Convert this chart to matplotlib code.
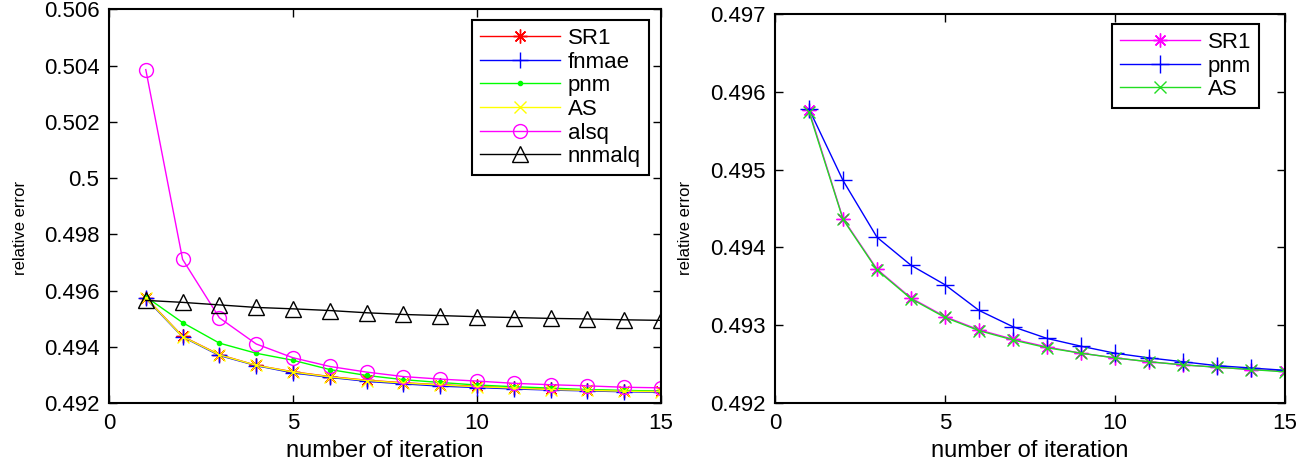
import numpy as np
import matplotlib
matplotlib.use("Agg")
import matplotlib.pyplot as plt
from matplotlib.ticker import FuncFormatter

plt.rcParams['font.family'] = ['Liberation Sans', 'DejaVu Sans']

# 迭代次数
iters = list(range(1, 16))

# 左图数据
sr1_left = [0.49575, 0.49437, 0.49372, 0.49334, 0.49311, 0.49294, 0.49281, 0.49272,
            0.49265, 0.49259, 0.49254, 0.49249, 0.49246, 0.49243, 0.49241]
fnmae_left = [0.49572, 0.49435, 0.49369, 0.49333, 0.49307, 0.49291, 0.49277, 0.49268,
              0.49260, 0.49255, 0.49250, 0.49246, 0.49243, 0.49240, 0.49238]
pnm_left = [0.49578, 0.49486, 0.49413, 0.49377, 0.49352, 0.49319, 0.49298, 0.49283,
            0.49273, 0.49264, 0.49258, 0.49253, 0.49248, 0.49245, 0.49242]
as_left = [0.49574, 0.49436, 0.49371, 0.49334, 0.49310, 0.49293, 0.49280, 0.49271,
           0.49264, 0.49258, 0.49253, 0.49248, 0.49245, 0.49242, 0.49240]
alsq_left = [0.50386, 0.49711, 0.49503, 0.49410, 0.49361, 0.49330, 0.49310, 0.49294,
             0.49285, 0.49278, 0.49270, 0.49265, 0.49261, 0.49256, 0.49254]
nnmalq_left = [0.49565, 0.49558, 0.49549, 0.49540, 0.49535, 0.49529, 0.49521, 0.49515,
               0.49511, 0.49507, 0.49504, 0.49501, 0.49499, 0.49496, 0.49494]

# 右图数据
sr1_right = [0.49576, 0.49437, 0.49372, 0.49335, 0.49311, 0.49294, 0.49282, 0.49272,
             0.49264, 0.49258, 0.49253, 0.49249, 0.49246, 0.49243, 0.49241]
pnm_right = [0.49578, 0.49486, 0.49413, 0.49377, 0.49352, 0.49319, 0.49298, 0.49283,
             0.49273, 0.49264, 0.49258, 0.49253, 0.49248, 0.49245, 0.49242]
as_right = [0.49574, 0.49436, 0.49371, 0.49334, 0.49310, 0.49293, 0.49281, 0.49271,
            0.49264, 0.49258, 0.49253, 0.49249, 0.49246, 0.49243, 0.49240]

xticks = [0, 5, 10, 15]
yticks_left = [0.492, 0.494, 0.496, 0.498, 0.5, 0.502, 0.504, 0.506]
yticks_right = [0.492, 0.493, 0.494, 0.495, 0.496, 0.497]

ASTERISK = (8, 2, 0)  # matlab 的 '*' 标记


def fmt_g(v, pos):
    return "%g" % round(v, 6)


def style_axes(ax, yticks):
    ax.set_xlim(0, 15)
    ax.set_ylim(yticks[0], yticks[-1])
    ax.set_xticks(xticks)
    ax.set_yticks(yticks)
    ax.yaxis.set_major_formatter(FuncFormatter(fmt_g))
    ax.tick_params(direction='in', top=True, right=True, length=6, width=1.0,
                   labelsize=16, pad=7)
    for sp in ax.spines.values():
        sp.set_linewidth(1.5)
    ax.set_xlabel("number of iteration", fontsize=17)
    ax.set_ylabel("relative error", fontsize=12)


def make_legend(ax, anchor):
    leg = ax.legend(loc='upper right', bbox_to_anchor=anchor, fontsize=16,
                    fancybox=False, edgecolor='black', framealpha=1,
                    handlelength=3.6, handletextpad=0.35, labelspacing=0.12,
                    borderpad=0.35, borderaxespad=0)
    leg.get_frame().set_linewidth(1.5)
    return leg


fig = plt.figure(figsize=(12.96, 4.63), dpi=100)
ax1 = fig.add_axes([0.0841, 0.1296, 0.4259, 0.8499])
ax2 = fig.add_axes([0.598, 0.1296, 0.3935, 0.8402])

lw = 1.0
ax1.plot(iters, sr1_left, color='red', marker=ASTERISK, ms=10, lw=lw, label='SR1')
ax1.plot(iters, fnmae_left, color='blue', marker='+', ms=11, lw=lw, label='fnmae')
ax1.plot(iters, pnm_left, color='#00ff00', marker='.', ms=6, lw=lw, label='pnm')
ax1.plot(iters, as_left, color='#ffff00', marker='x', ms=8, lw=lw, label='AS')
ax1.plot(iters, alsq_left, color='magenta', marker='o', ms=10, mfc='none', lw=lw, label='alsq')
ax1.plot(iters, nnmalq_left, color='black', marker='^', ms=11, mfc='none', lw=lw, label='nnmalq')
style_axes(ax1, yticks_left)
ax1.xaxis.set_label_coords(0.5, -0.095)
ax1.yaxis.set_label_coords(-0.147, 0.445)
make_legend(ax1, (0.978, 0.973))

ax2.plot(iters, sr1_right, color='magenta', marker=ASTERISK, ms=10, lw=lw, label='SR1')
ax2.plot(iters, pnm_right, color='blue', marker='+', ms=13, lw=lw, label='pnm')
ax2.plot(iters, as_right, color='#22dd22', marker='x', ms=8, lw=lw, label='AS')
style_axes(ax2, yticks_right)
ax2.xaxis.set_label_coords(0.5, -0.095)
ax2.yaxis.set_label_coords(-0.16, 0.45)
make_legend(ax2, (0.949, 0.974))

fig.savefig("out.png", dpi=100)
